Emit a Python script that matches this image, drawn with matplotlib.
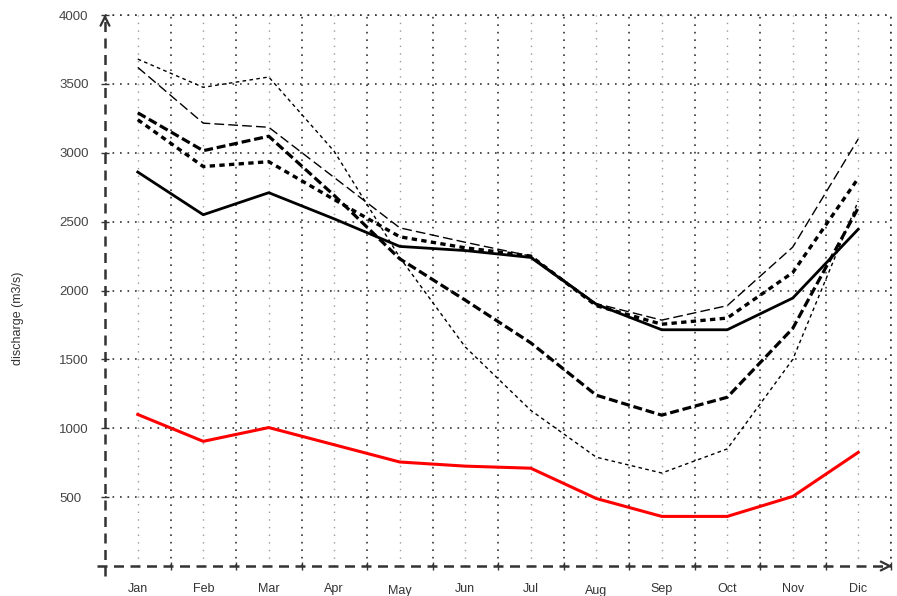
import matplotlib
matplotlib.use("Agg")
import matplotlib.pyplot as plt
import matplotlib.transforms as mtransforms
import numpy as np

months = ["Jan", "Feb", "Mar", "Apr", "May", "Jun",
          "Jul", "Aug", "Sep", "Oct", "Nov", "Dic"]

# monthly discharge series (m3/s)
q_mean = [2860, 2550, 2710, 2520, 2320, 2290, 2240, 1900, 1715, 1715, 1945, 2445]
q_low = [1100, 905, 1005, 880, 755, 725, 710, 490, 360, 360, 505, 825]
q_dry = [3290, 3015, 3120, 2690, 2230, 1930, 1620, 1240, 1095, 1225, 1725, 2600]
q_mid = [3240, 2900, 2935, 2660, 2390, 2310, 2250, 1890, 1755, 1800, 2130, 2815]
q_wet = [3620, 3215, 3185, 2820, 2455, 2350, 2250, 1905, 1785, 1890, 2315, 3100]
q_vdry = [3680, 3475, 3550, 3010, 2240, 1590, 1130, 790, 675, 850, 1500, 2650]

yticks = [500, 1000, 1500, 2000, 2500, 3000, 3500, 4000]

plt.rcParams["font.family"] = ["Liberation Sans", "DejaVu Sans"]

fig = plt.figure(figsize=(8.97, 5.96), dpi=100)
ax = fig.add_axes([105 / 897, 30 / 596, (891 - 105) / 897, (566 - 15) / 596])

x = np.arange(1, len(months) + 1)
ax.set_xlim(0.5, 12.5)
ax.set_ylim(0, 4000)

# grid: dark dots between months and on y ticks, lighter dots on months
ax.set_xticks(x)
ax.set_xticks(np.arange(1.5, 12.6, 1.0), minor=True)
ax.set_yticks(yticks)
ax.grid(True, which="major", axis="x", color="#999999", lw=1.0, linestyle=(0, (1, 4.5)))
ax.grid(True, which="minor", axis="x", color="#333333", lw=1.2, linestyle=(0, (1, 3.5)))
ax.grid(True, which="major", axis="y", color="#333333", lw=1.2, linestyle=(0, (1, 3.5)))
ax.axhline(4000, color="#333333", lw=1.2, linestyle=(0, (1, 3.5)), clip_on=False)
ax.axvline(12.5, color="#333333", lw=1.2, linestyle=(0, (1, 3.5)), clip_on=False)

for s in ax.spines.values():
    s.set_visible(False)

ax.tick_params(axis="x", which="major", length=0, pad=12, labelsize=9, labelcolor="#333333")
ax.tick_params(axis="x", which="minor", length=6, direction="inout", color="#333333", width=1)
ax.tick_params(axis="y", which="major", length=6, direction="inout", color="#333333",
               width=1, labelsize=9.5, labelcolor="#444444", pad=30)
ax.set_xticklabels(months)
for lab in ax.get_yticklabels():
    lab.set_horizontalalignment("left")

# May and Aug labels sit a little lower
for i in (4, 7):
    lab = ax.get_xticklabels()[i]
    lab.set_transform(lab.get_transform() +
                      mtransforms.ScaledTranslation(0, -2.5 / 100, fig.dpi_scale_trans))

# dashed axes with arrow heads
axis_kw = dict(color="#333333", lw=1.8, linestyle=(0, (4, 2.6)), clip_on=False, zorder=5)
ax.plot([0.5, 0.5], [-75, 3980], **axis_kw)
ax.plot([0.38, 12.5], [0, 0], **axis_kw)
arrow_kw = dict(arrowstyle="->", color="#333333", lw=1.6, mutation_scale=16)
ax.annotate("", xy=(0.5, 4025), xytext=(0.5, 3960), arrowprops=arrow_kw, annotation_clip=False)
ax.annotate("", xy=(12.56, 0), xytext=(12.45, 0), arrowprops=arrow_kw, annotation_clip=False)

ax.plot(x, q_vdry, color="black", lw=1.0, linestyle=(0, (2.6, 2.4)), zorder=3)
ax.plot(x, q_wet, color="black", lw=1.0, linestyle=(0, (7, 3)), zorder=3)
ax.plot(x, q_mid, color="black", lw=2.4, linestyle=(0, (1.6, 1.3)), zorder=3)
ax.plot(x, q_dry, color="black", lw=2.3, linestyle=(0, (2.8, 1.2)), zorder=3)
ax.plot(x, q_mean, color="black", lw=2.0, zorder=4)
ax.plot(x, q_low, color="red", lw=2.2, zorder=4)

fig.text(18 / 897, 1 - 318 / 596, "discharge (m3/s)", rotation=90, ha="center", va="center",
         fontsize=9, color="#333333")

fig.savefig("out.png", dpi=100)
